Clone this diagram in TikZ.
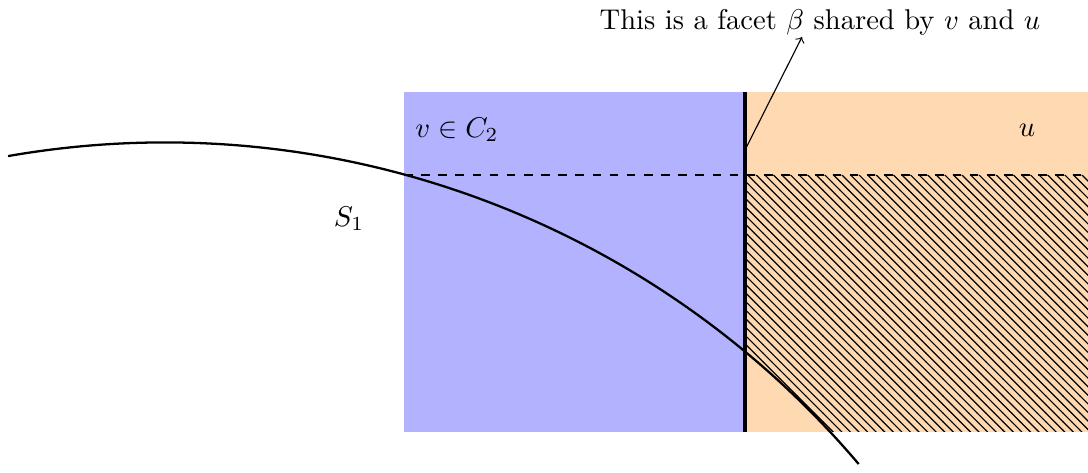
\documentclass[tikz,border=0pt]{standalone}
\usetikzlibrary{patterns}
\tikzset{
  facet/.style={line width=1.4pt},
  sphere/.style={thick},
  cut/.style={thick,dashed},
  pointer/.style={->,>=to,thin},
}
\begin{document}
\begin{tikzpicture}[x=0.35pt,y=0.35pt]
\useasboundingbox (0,0) rectangle (1088,473);
% regions
\fill[blue!30] (404,41) rectangle (745,381);
\fill[orange!30] (745,41) rectangle (1088,381);
% hatched part outside the sphere
\fill[pattern=north west lines]
  (747,298) -- (1088,298) -- (1088,41) -- (830.1,41)
  arc[start angle=42.97, end angle=50.19, radius=909] -- cycle;
% coordinates
\coordinate (cl) at (404,298);
\coordinate (cr) at (1088,298);
\coordinate (fb) at (745,41);
\coordinate (ft) at (745,381);
\coordinate (fp) at (745,323);
\coordinate (cs) at (8.1,316.9);
\draw[cut] (cl) -- (cr);
\draw[facet] (fb) -- (ft);
\draw[sphere] (cs) arc[start angle=99.94, end angle=40.26, radius=909];
% labels
\node (lab) at (820,451) {This is a facet $\beta$ shared by $v$ and $u$};
\coordinate (tip) at (802,436);
\draw[pointer] (fp) -- (tip);
\node (vlab) at (457,343) {$v\in C_2$};
\node (ulab) at (1027,343) {$u$};
\node (slab) at (349,254) {$S_1$};
\end{tikzpicture}
\end{document}
